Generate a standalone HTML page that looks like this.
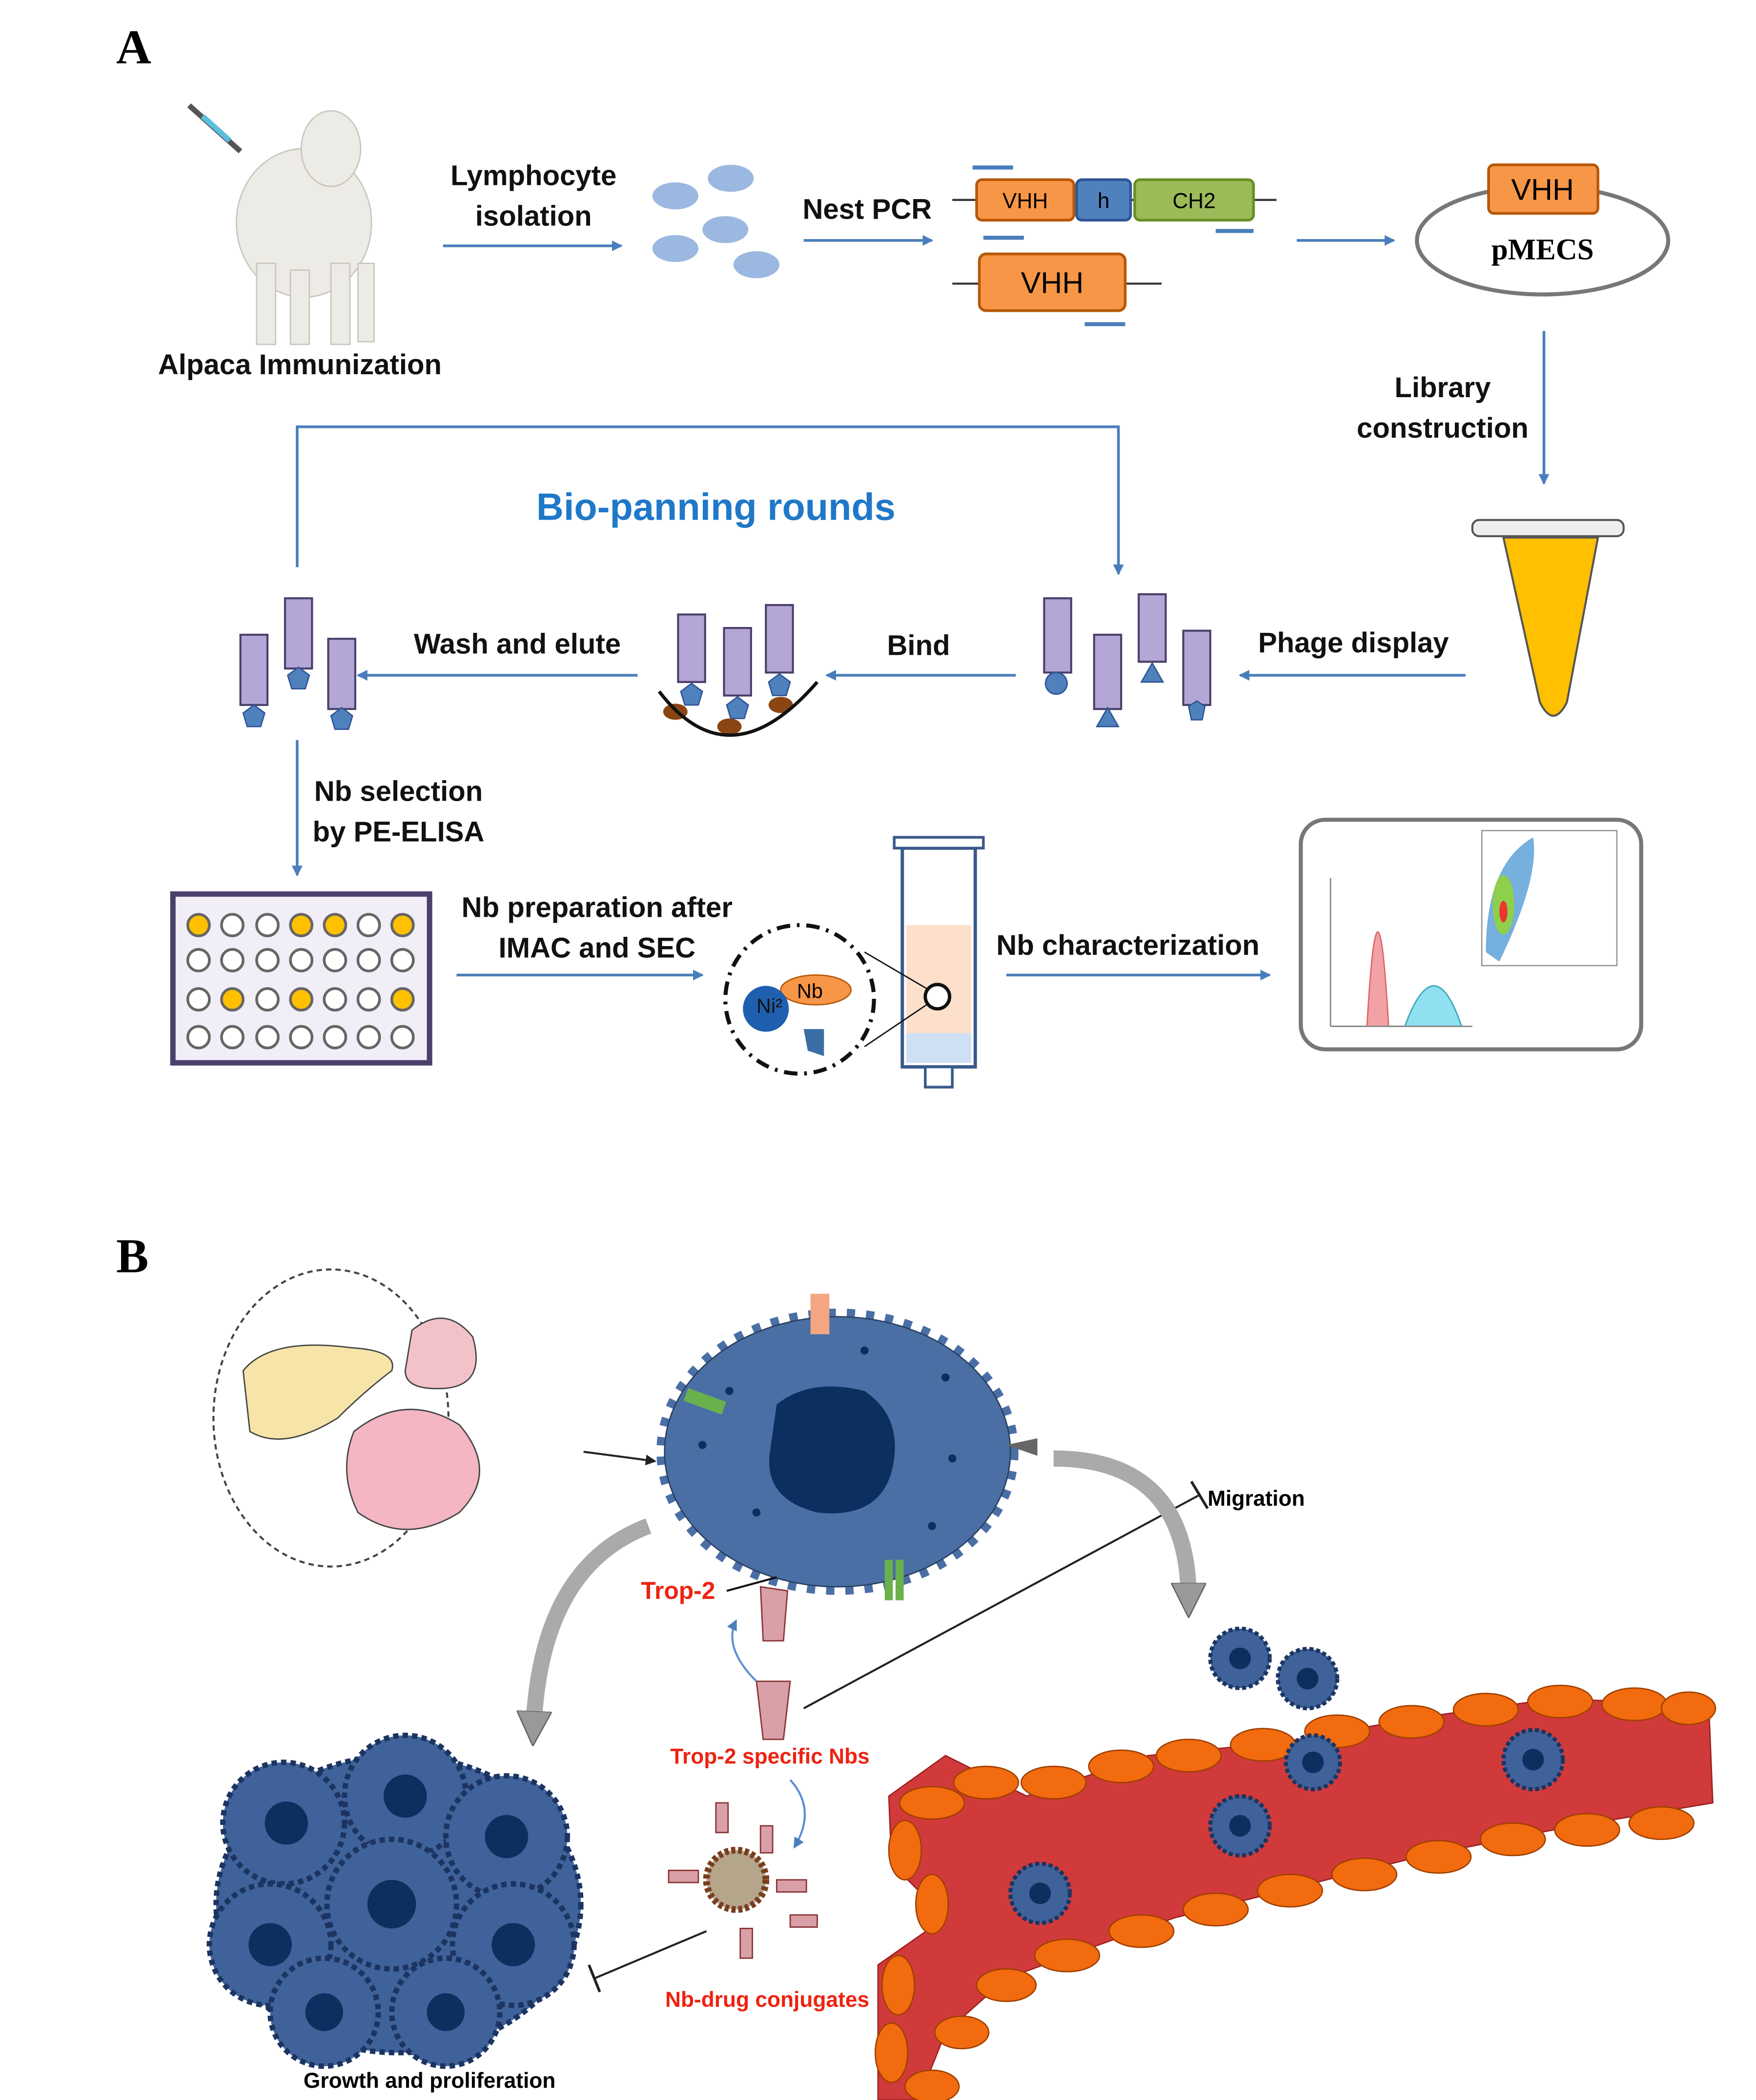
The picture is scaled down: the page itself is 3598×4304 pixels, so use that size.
<!DOCTYPE html>
<html><head><meta charset="utf-8"><style>
html,body{margin:0;padding:0;background:#fff}
svg{display:block}
text{font-family:"Liberation Sans",sans-serif}
.l{font-size:21px;font-weight:bold;fill:#111;text-anchor:middle}
</style></head><body>
<svg width="3598" height="4304" viewBox="0 0 1300 1555" xmlns="http://www.w3.org/2000/svg">
<defs>
<marker id="ab" markerWidth="8" markerHeight="8" refX="7" refY="4" orient="auto" markerUnits="userSpaceOnUse"><path d="M0,0 L8,4 L0,8 z" fill="#4a7ebb"/></marker>
<marker id="ak" markerWidth="8" markerHeight="8" refX="7" refY="4" orient="auto" markerUnits="userSpaceOnUse"><path d="M0,0 L8,4 L0,8 z" fill="#222"/></marker>
<marker id="ag" markerWidth="26" markerHeight="26" refX="13" refY="13" orient="auto" markerUnits="userSpaceOnUse"><path d="M0,0 L26,13 L0,26 z" fill="#999" stroke="#666"/></marker>
</defs>
<rect width="1300" height="1555" fill="#fff"/>
<text x="86" y="47" font-size="36" font-weight="bold" style="font-family:'Liberation Serif',serif">A</text>
<g fill="#ecebe6" stroke="#c9c6bd" stroke-width="1">
<ellipse cx="225" cy="165" rx="50" ry="55"/>
<ellipse cx="245" cy="110" rx="22" ry="28"/>
<rect x="190" y="195" width="14" height="60"/><rect x="215" y="200" width="14" height="55"/><rect x="245" y="195" width="14" height="60"/><rect x="265" y="195" width="12" height="58"/>
</g>
<line x1="140" y1="78" x2="178" y2="112" stroke="#555" stroke-width="4"/><line x1="150" y1="86" x2="170" y2="104" stroke="#5bc0de" stroke-width="4"/>
<text x="222" y="277" class="l">Alpaca Immunization</text>
<line x1="328" y1="182" x2="460" y2="182" stroke="#4a7ebb" stroke-width="2" marker-end="url(#ab)"/>
<text x="395" y="137" class="l">Lymphocyte</text><text x="395" y="167" class="l">isolation</text>
<g fill="#9bb8e0"><ellipse cx="500" cy="145" rx="17" ry="10"/><ellipse cx="541" cy="132" rx="17" ry="10"/><ellipse cx="537" cy="170" rx="17" ry="10"/><ellipse cx="500" cy="184" rx="17" ry="10"/><ellipse cx="560" cy="196" rx="17" ry="10"/></g>
<line x1="595" y1="178" x2="690" y2="178" stroke="#4a7ebb" stroke-width="2" marker-end="url(#ab)"/>
<text x="642" y="162" class="l">Nest PCR</text>
<line x1="705" y1="148" x2="945" y2="148" stroke="#333" stroke-width="1.5"/>
<rect x="723" y="133" width="72" height="30" rx="4" fill="#f79646" stroke="#b65708" stroke-width="2"/>
<rect x="797" y="133" width="40" height="30" rx="4" fill="#4f81bd" stroke="#2f5597" stroke-width="2"/>
<rect x="840" y="133" width="88" height="30" rx="4" fill="#9bbb59" stroke="#6b8e23" stroke-width="2"/>
<text x="759" y="154" font-size="16" text-anchor="middle">VHH</text><text x="817" y="154" font-size="16" text-anchor="middle">h</text><text x="884" y="154" font-size="16" text-anchor="middle">CH2</text>
<line x1="720" y1="124" x2="750" y2="124" stroke="#4a7ebb" stroke-width="3"/><line x1="900" y1="171" x2="928" y2="171" stroke="#4a7ebb" stroke-width="3"/>
<line x1="705" y1="210" x2="860" y2="210" stroke="#333" stroke-width="1.5"/>
<rect x="725" y="188" width="108" height="42" rx="5" fill="#f79646" stroke="#b65708" stroke-width="2"/>
<text x="779" y="217" font-size="22" text-anchor="middle">VHH</text>
<line x1="728" y1="176" x2="758" y2="176" stroke="#4a7ebb" stroke-width="3"/><line x1="803" y1="240" x2="833" y2="240" stroke="#4a7ebb" stroke-width="3"/>
<line x1="960" y1="178" x2="1032" y2="178" stroke="#4a7ebb" stroke-width="2" marker-end="url(#ab)"/>
<ellipse cx="1142" cy="178" rx="93" ry="40" fill="#fff" stroke="#777" stroke-width="3"/>
<rect x="1102" y="122" width="81" height="36" rx="4" fill="#f79646" stroke="#b65708" stroke-width="2"/>
<text x="1142" y="148" font-size="22" text-anchor="middle">VHH</text>
<text x="1142" y="192" font-size="22" font-weight="bold" text-anchor="middle" style="font-family:'Liberation Serif',serif">pMECS</text>
<line x1="1143" y1="245" x2="1143" y2="358" stroke="#4a7ebb" stroke-width="2" marker-end="url(#ab)"/>
<text x="1068" y="294" class="l">Library</text><text x="1068" y="324" class="l">construction</text>
<path d="M1113,398 L1183,398 L1160,520 Q1150,540 1140,520 Z" fill="#ffc000" stroke="#555" stroke-width="1.5"/>
<rect x="1090" y="385" width="112" height="12" rx="5" fill="#eee" stroke="#555" stroke-width="1.5"/>
<polyline points="220,420 220,316 828,316 828,425" fill="none" stroke="#4a7ebb" stroke-width="2" marker-end="url(#ab)"/>
<text x="530" y="385" font-size="28" font-weight="bold" fill="#1f78c8" text-anchor="middle">Bio-panning rounds</text>
<line x1="1085" y1="500" x2="918" y2="500" stroke="#4a7ebb" stroke-width="2" marker-end="url(#ab)"/>
<text x="1002" y="483" class="l">Phage display</text>
<g fill="#b4a7d6" stroke="#4b3f6b" stroke-width="1.5">
<rect x="773" y="443" width="20" height="55"/><rect x="810" y="470" width="20" height="55"/><rect x="843" y="440" width="20" height="50"/><rect x="876" y="467" width="20" height="55"/>
<rect x="178" y="470" width="20" height="52"/><rect x="211" y="443" width="20" height="52"/><rect x="243" y="473" width="20" height="52"/>
<rect x="502" y="455" width="20" height="50"/><rect x="536" y="465" width="20" height="50"/><rect x="567" y="448" width="20" height="50"/>
</g>
<g fill="#4f81bd" stroke="#2f5597">
<circle cx="782" cy="506" r="8"/><path d="M812,538 L820,524 L828,538Z"/><path d="M845,505 L853,491 L861,505Z"/><path d="M880,523 L886,519 L892,523 L890,533 L882,533Z"/>
<path d="M180,528 L188,522 L196,528 L193,538 L183,538Z"/><path d="M213,500 L221,494 L229,500 L226,510 L216,510Z"/><path d="M245,530 L253,524 L261,530 L258,540 L248,540Z"/>
<path d="M504,512 L512,506 L520,512 L517,522 L507,522Z"/><path d="M538,522 L546,516 L554,522 L551,532 L541,532Z"/><path d="M569,505 L577,499 L585,505 L582,515 L572,515Z"/>
</g>
<g fill="#8b4513"><ellipse cx="500" cy="527" rx="9" ry="6"/><ellipse cx="540" cy="538" rx="9" ry="6"/><ellipse cx="578" cy="522" rx="9" ry="6"/></g>
<path d="M488,512 Q540,580 605,505" fill="none" stroke="#111" stroke-width="2.5"/>
<line x1="752" y1="500" x2="612" y2="500" stroke="#4a7ebb" stroke-width="2" marker-end="url(#ab)"/>
<text x="680" y="485" class="l">Bind</text>
<line x1="472" y1="500" x2="265" y2="500" stroke="#4a7ebb" stroke-width="2" marker-end="url(#ab)"/>
<text x="383" y="484" class="l">Wash and elute</text>
<line x1="220" y1="548" x2="220" y2="648" stroke="#4a7ebb" stroke-width="2" marker-end="url(#ab)"/>
<text x="295" y="593" class="l">Nb selection</text><text x="295" y="623" class="l">by PE-ELISA</text>
<rect x="128" y="662" width="190" height="125" fill="#f1eef7" stroke="#4b3f6b" stroke-width="4"/>
<g stroke="#666" stroke-width="2" fill="#fff">
<circle cx="147" cy="685" r="8" fill="#ffc000"/><circle cx="172" cy="685" r="8"/><circle cx="198" cy="685" r="8"/><circle cx="223" cy="685" r="8" fill="#ffc000"/><circle cx="248" cy="685" r="8" fill="#ffc000"/><circle cx="273" cy="685" r="8"/><circle cx="298" cy="685" r="8" fill="#ffc000"/>
<circle cx="147" cy="711" r="8"/><circle cx="172" cy="711" r="8"/><circle cx="198" cy="711" r="8"/><circle cx="223" cy="711" r="8"/><circle cx="248" cy="711" r="8"/><circle cx="273" cy="711" r="8"/><circle cx="298" cy="711" r="8"/>
<circle cx="147" cy="740" r="8"/><circle cx="172" cy="740" r="8" fill="#ffc000"/><circle cx="198" cy="740" r="8"/><circle cx="223" cy="740" r="8" fill="#ffc000"/><circle cx="248" cy="740" r="8"/><circle cx="273" cy="740" r="8"/><circle cx="298" cy="740" r="8" fill="#ffc000"/>
<circle cx="147" cy="768" r="8"/><circle cx="172" cy="768" r="8"/><circle cx="198" cy="768" r="8"/><circle cx="223" cy="768" r="8"/><circle cx="248" cy="768" r="8"/><circle cx="273" cy="768" r="8"/><circle cx="298" cy="768" r="8"/>
</g>
<line x1="338" y1="722" x2="520" y2="722" stroke="#4a7ebb" stroke-width="2" marker-end="url(#ab)"/>
<text x="442" y="679" class="l">Nb preparation after</text><text x="442" y="709" class="l">IMAC and SEC</text>
<circle cx="592" cy="740" r="55" fill="none" stroke="#111" stroke-width="3" stroke-dasharray="10,5,2,5"/>
<ellipse cx="604" cy="733" rx="26" ry="11" fill="#f79646" stroke="#b65708"/>
<circle cx="567" cy="747" r="17" fill="#1f5fb0"/>
<text x="560" y="750" font-size="15" fill="#111">Ni²</text><text x="590" y="739" font-size="15">Nb</text>
<path d="M595,762 L610,762 L610,782 L598,778Z" fill="#3a6ea5"/>
<rect x="668" y="628" width="54" height="162" fill="#fff" stroke="#3a5a8c" stroke-width="2.5"/>
<rect x="671" y="685" width="48" height="80" fill="#fde0cc"/><rect x="671" y="765" width="48" height="22" fill="#cfe0f5"/>
<rect x="662" y="620" width="66" height="8" fill="#fff" stroke="#3a5a8c" stroke-width="2"/>
<rect x="685" y="790" width="20" height="15" fill="#fff" stroke="#3a5a8c" stroke-width="2"/>
<circle cx="694" cy="738" r="9" fill="#fff" stroke="#111" stroke-width="2.5"/>
<line x1="640" y1="705" x2="686" y2="732" stroke="#111"/><line x1="640" y1="775" x2="686" y2="744" stroke="#111"/>
<line x1="745" y1="722" x2="940" y2="722" stroke="#4a7ebb" stroke-width="2" marker-end="url(#ab)"/>
<text x="835" y="707" class="l">Nb characterization</text>
<rect x="963" y="607" width="252" height="170" rx="18" fill="#fff" stroke="#777" stroke-width="3"/>
<path d="M985,760 L1012,760 Q1020,620 1028,760 L1040,760 Q1062,700 1082,760" fill="#f2a2a4" stroke="#d66" stroke-width="1"/>
<path d="M1040,760 Q1062,700 1082,760 Z" fill="#8fe0f0" stroke="#3ab"/>
<line x1="985" y1="650" x2="985" y2="760" stroke="#888"/><line x1="985" y1="760" x2="1090" y2="760" stroke="#888"/>
<rect x="1097" y="615" width="100" height="100" fill="#fff" stroke="#999"/>
<path d="M1100,705 Q1100,640 1135,620 Q1140,650 1110,712Z" fill="#3b8fd0" opacity=".7"/>
<ellipse cx="1113" cy="670" rx="8" ry="22" fill="#8ed04b"/>
<ellipse cx="1113" cy="675" rx="3" ry="8" fill="#e33"/>
<text x="86" y="942" font-size="36" font-weight="bold" style="font-family:'Liberation Serif',serif">B</text>
<ellipse cx="245" cy="1050" rx="87" ry="110" fill="#fff" stroke="#444" stroke-width="1.5" stroke-dasharray="4,3"/>
<path d="M180,1015 Q200,990 260,998 Q295,1000 290,1015 Q270,1030 250,1050 Q210,1075 185,1060 Z" fill="#f6e4a8" stroke="#444"/>
<path d="M305,985 Q330,965 350,990 Q360,1025 330,1028 Q300,1030 300,1015 Z" fill="#f3c2c8" stroke="#444"/>
<path d="M262,1060 Q300,1030 340,1055 Q370,1090 340,1120 Q300,1145 265,1120 Q250,1090 262,1060Z" fill="#f3b6c2" stroke="#444"/>
<line x1="432" y1="1075" x2="485" y2="1082" stroke="#222" stroke-width="1.5" marker-end="url(#ak)"/>
<ellipse cx="620" cy="1075" rx="128" ry="100" fill="#4a6fa5" stroke="#4a6fa5" stroke-width="12" stroke-dasharray="6,8"/>
<ellipse cx="620" cy="1075" rx="128" ry="100" fill="#4a6fa5" stroke="#2a3f60" stroke-width="1"/>
<path d="M575,1040 Q600,1020 640,1030 Q670,1050 660,1090 Q650,1125 605,1120 Q565,1110 570,1075Z" fill="#0b2f5e"/>
<g fill="#0b2f5e"><circle cx="540" cy="1030" r="3"/><circle cx="700" cy="1020" r="3"/><circle cx="705" cy="1080" r="3"/><circle cx="560" cy="1120" r="3"/><circle cx="690" cy="1130" r="3"/><circle cx="520" cy="1070" r="3"/><circle cx="640" cy="1000" r="3"/></g>
<rect x="600" y="958" width="14" height="30" fill="#f4a582"/><rect x="507" y="1032" width="30" height="10" fill="#6ab04c" transform="rotate(20 520 1037)"/>
<rect x="655" y="1155" width="6" height="30" fill="#6ab04c"/><rect x="663" y="1155" width="6" height="30" fill="#6ab04c"/>
<path d="M745,1070 L768,1065 L768,1078Z" fill="#666"/>
<text x="502" y="1184" font-size="18" font-weight="bold" fill="#e21" text-anchor="middle">Trop-2</text>
<line x1="538" y1="1178" x2="575" y2="1168" stroke="#111" stroke-width="1.5"/>
<path d="M563,1175 L583,1178 L580,1215 L565,1215Z" fill="#d9a0a8" stroke="#833"/>
<path d="M560,1245 L585,1245 L580,1288 L565,1288Z" fill="#d9a0a8" stroke="#833"/>
<path d="M560,1245 Q535,1220 545,1200" fill="none" stroke="#5b8fd6" stroke-width="1.5" marker-end="url(#ab)"/>
<text x="570" y="1306" font-size="16" font-weight="bold" fill="#e21" text-anchor="middle">Trop-2 specific Nbs</text>
<path d="M585,1318 Q605,1340 588,1368" fill="none" stroke="#5b8fd6" stroke-width="1.5" marker-end="url(#ab)"/>
<circle cx="545" cy="1392" r="22" fill="#b5a58a" stroke="#7a3d1e" stroke-width="5" stroke-dasharray="3,2"/>
<g fill="#d9a0a8" stroke="#833"><rect x="530" y="1335" width="9" height="22"/><rect x="495" y="1385" width="22" height="9"/><rect x="575" y="1392" width="22" height="9"/><rect x="563" y="1352" width="9" height="20"/><rect x="548" y="1428" width="9" height="22"/><rect x="585" y="1418" width="20" height="9"/></g>
<text x="568" y="1486" font-size="16" font-weight="bold" fill="#e21" text-anchor="middle">Nb-drug conjugates</text>
<line x1="523" y1="1430" x2="440" y2="1465" stroke="#222" stroke-width="1.5"/><line x1="436" y1="1455" x2="444" y2="1475" stroke="#222" stroke-width="2"/>
<line x1="595" y1="1265" x2="888" y2="1107" stroke="#222" stroke-width="1.5"/><line x1="882" y1="1097" x2="894" y2="1117" stroke="#222" stroke-width="2"/>
<text x="930" y="1115" font-size="16" font-weight="bold" text-anchor="middle">Migration</text>
<path d="M480,1130 Q400,1160 395,1280" fill="none" stroke="#aaa" stroke-width="12" marker-end="url(#ag)"/>
<path d="M780,1080 Q880,1080 880,1185" fill="none" stroke="#aaa" stroke-width="12" marker-end="url(#ag)"/>
<g fill="#3f629a" stroke="#1c3461" stroke-width="4" stroke-dasharray="4,3">
<ellipse cx="295" cy="1410" rx="135" ry="110"/>
<circle cx="210" cy="1350" r="45"/><circle cx="300" cy="1330" r="45"/><circle cx="375" cy="1360" r="45"/><circle cx="200" cy="1440" r="45"/><circle cx="290" cy="1410" r="48"/><circle cx="380" cy="1440" r="45"/><circle cx="240" cy="1490" r="40"/><circle cx="330" cy="1490" r="40"/>
</g>
<g fill="#0b2f5e"><circle cx="212" cy="1350" r="16"/><circle cx="300" cy="1330" r="16"/><circle cx="375" cy="1360" r="16"/><circle cx="200" cy="1440" r="16"/><circle cx="290" cy="1410" r="18"/><circle cx="380" cy="1440" r="16"/><circle cx="240" cy="1490" r="14"/><circle cx="330" cy="1490" r="14"/></g>
<text x="318" y="1546" font-size="16" font-weight="bold" text-anchor="middle">Growth and proliferation</text>
<path d="M658,1330 L700,1300 L760,1330 L850,1300 L950,1290 L1050,1272 L1150,1258 L1265,1262 L1268,1335 L1150,1355 L1050,1375 L950,1400 L870,1420 L800,1445 L745,1465 L700,1505 L680,1555 L650,1555 L650,1455 L700,1420 L660,1380 Z" fill="#d13a3a" stroke="#a02020"/>
<g fill="#f26b0f" stroke="#a04000" stroke-width="1">
<ellipse cx="690" cy="1335" rx="24" ry="12"/><ellipse cx="730" cy="1320" rx="24" ry="12"/><ellipse cx="780" cy="1320" rx="24" ry="12"/><ellipse cx="830" cy="1308" rx="24" ry="12"/><ellipse cx="880" cy="1300" rx="24" ry="12"/><ellipse cx="935" cy="1292" rx="24" ry="12"/><ellipse cx="990" cy="1282" rx="24" ry="12"/><ellipse cx="1045" cy="1275" rx="24" ry="12"/><ellipse cx="1100" cy="1266" rx="24" ry="12"/><ellipse cx="1155" cy="1260" rx="24" ry="12"/><ellipse cx="1210" cy="1262" rx="24" ry="12"/><ellipse cx="1250" cy="1265" rx="20" ry="12"/>
<ellipse cx="1230" cy="1350" rx="24" ry="12"/><ellipse cx="1175" cy="1355" rx="24" ry="12"/><ellipse cx="1120" cy="1362" rx="24" ry="12"/><ellipse cx="1065" cy="1375" rx="24" ry="12"/><ellipse cx="1010" cy="1388" rx="24" ry="12"/><ellipse cx="955" cy="1400" rx="24" ry="12"/><ellipse cx="900" cy="1414" rx="24" ry="12"/><ellipse cx="845" cy="1430" rx="24" ry="12"/><ellipse cx="790" cy="1448" rx="24" ry="12"/><ellipse cx="745" cy="1470" rx="22" ry="12"/><ellipse cx="712" cy="1505" rx="20" ry="12"/><ellipse cx="690" cy="1545" rx="20" ry="12"/>
<ellipse cx="670" cy="1370" rx="12" ry="22"/><ellipse cx="690" cy="1410" rx="12" ry="22"/><ellipse cx="665" cy="1470" rx="12" ry="22"/><ellipse cx="660" cy="1520" rx="12" ry="22"/>
</g>
<g fill="#3f629a" stroke="#1c3461" stroke-dasharray="3,2" stroke-width="3">
<circle cx="918" cy="1228" r="22"/><circle cx="968" cy="1243" r="22"/><circle cx="972" cy="1305" r="20"/><circle cx="1135" cy="1303" r="22"/><circle cx="918" cy="1352" r="22"/><circle cx="770" cy="1402" r="22"/>
</g>
<g fill="#0b2f5e"><circle cx="918" cy="1228" r="8"/><circle cx="968" cy="1243" r="8"/><circle cx="972" cy="1305" r="8"/><circle cx="1135" cy="1303" r="8"/><circle cx="918" cy="1352" r="8"/><circle cx="770" cy="1402" r="8"/></g>
</svg>
</body></html>
